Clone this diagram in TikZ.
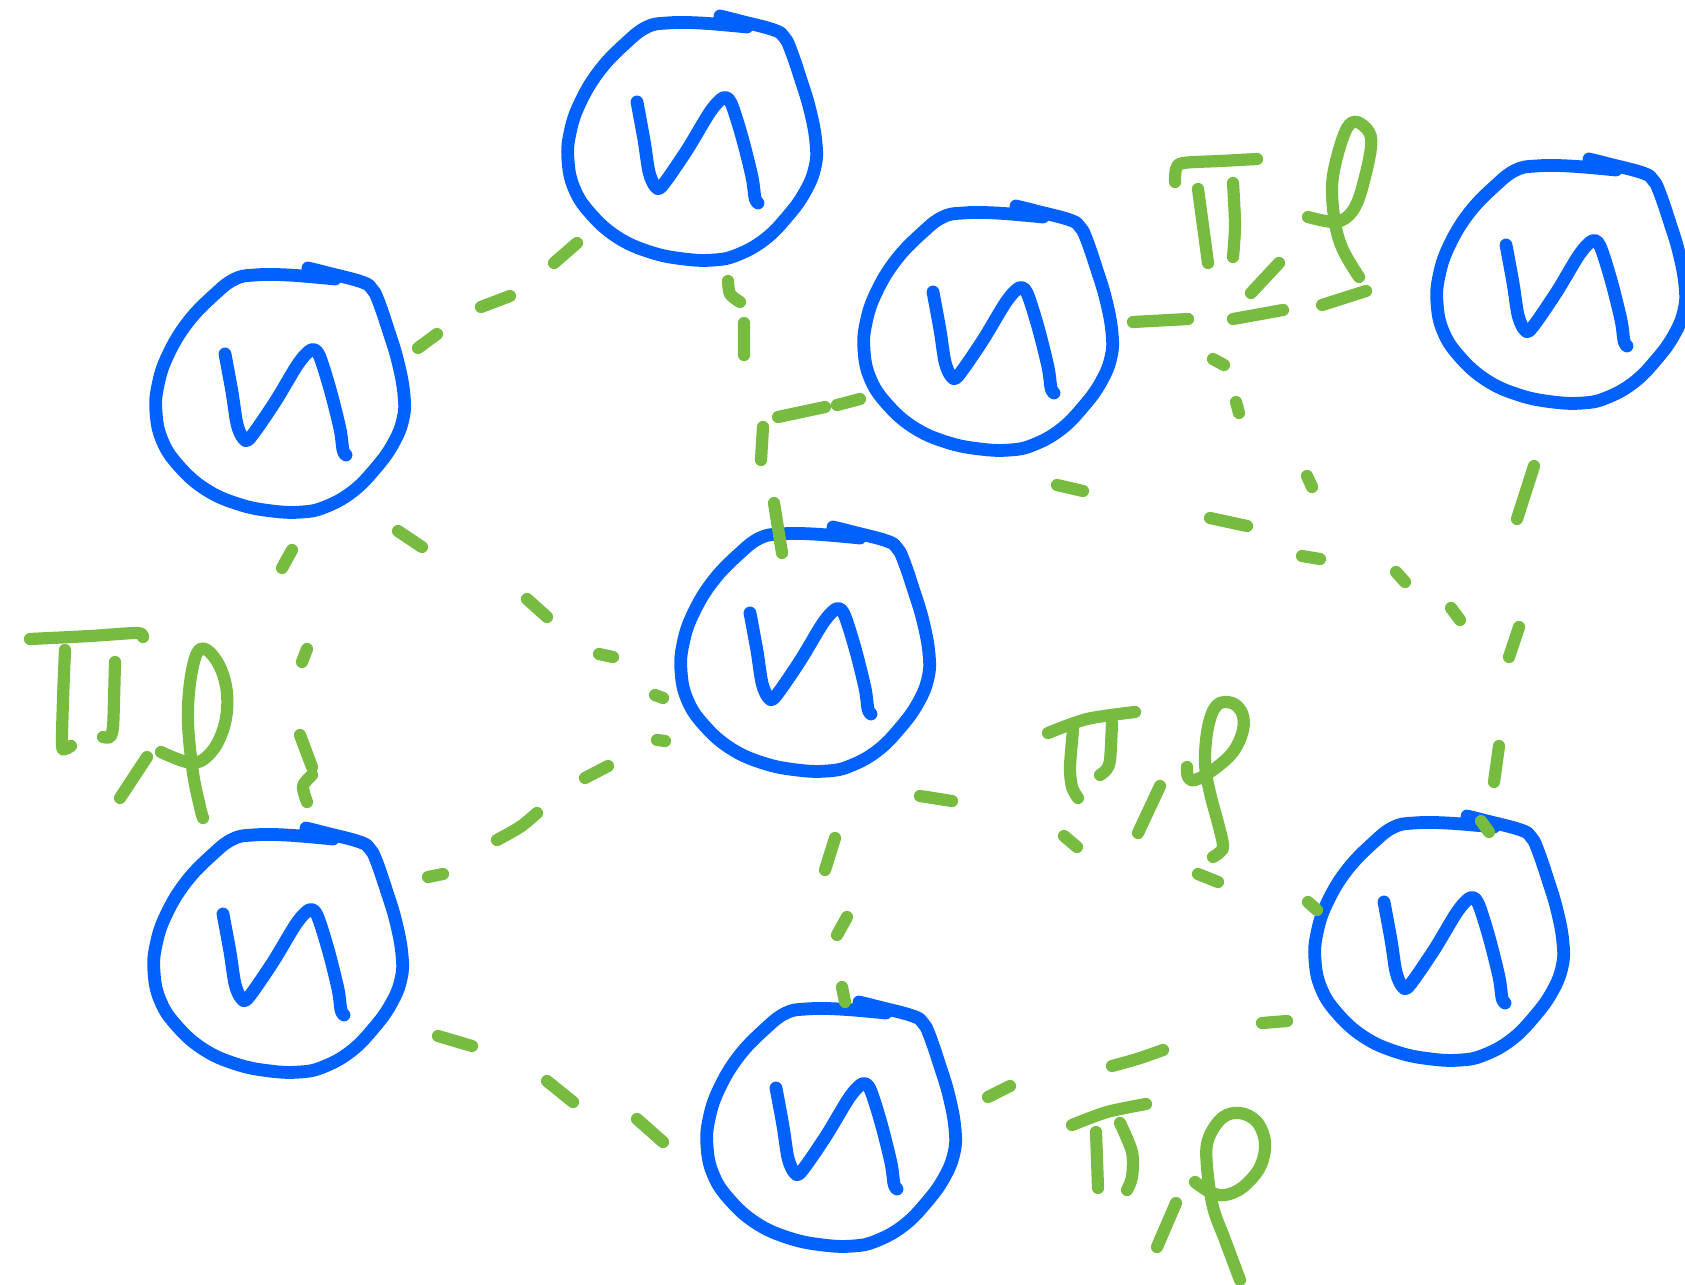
\documentclass[tikz,border=0pt]{standalone}
\definecolor{inkblue}{RGB}{0,97,254}
\definecolor{inkgreen}{RGB}{119,187,65}
\tikzset{
  x=0.5pt, y=-0.5pt,
  pen/.style={line width=6.1pt, line cap=round, line join=round},
  blobline/.style={pen, draw=inkblue, line width=6.4pt},
  link/.style={pen, draw=inkgreen},
  glyph/.style={pen, draw=inkgreen},
  % hand-drawn state: a closed scribble with a letter n inside
  blob/.pic={
    \draw[blobline] plot[smooth, tension=0.7] coordinates {
      (28,-124) (48,-119) (82,-110) (92,-103) (98,-92) (108,-63) (118,-30)
      (124,3) (123,27) (113,52) (95,77) (72,100) (45,115) (22,120) (-8,119)
      (-42,112) (-75,97) (-102,73) (-118,48) (-124,20) (-122,-7) (-112,-37)
      (-92,-70) (-65,-98) (-45,-113) (-25,-117) (8,-117) (55,-113)};
    \draw[blobline] plot[smooth, tension=0.5] coordinates {
      (-55,-38) (-48,0) (-43,32) (-37,46) (-30,46) (-5,10) (18,-28)
      (31,-42) (39,-37) (50,-3) (60,37) (63,58) (66,63)};
  }
}
\begin{document}
\begin{tikzpicture}
\useasboundingbox (0,0) rectangle (1685,1284);
\fill[white] (0,0) rectangle (1685,1284);

% states
\node[coordinate] (n1) at (692,140) {};
\node[coordinate] (n2) at (280,392) {};
\node[coordinate] (n3) at (988,330) {};
\node[coordinate] (n4) at (1561,283) {};
\node[coordinate] (n5) at (805,651) {};
\node[coordinate] (n6) at (278,952) {};
\node[coordinate] (n7) at (831,1126) {};
\node[coordinate] (n8) at (1439,940) {};
\foreach \n in {n1,n2,n3,n4,n5,n6,n7,n8} \pic at (\n) {blob};

% dashed links, each drawn stroke by stroke
\draw[link] (418,348) -- (437,334) (481,307) -- (510,296) (554,263) -- (577,243);
\draw[link] plot[smooth] coordinates {(728,281) (730,294) (740,302)};
\draw[link] (744,323) -- (744,355) (763,427) -- (761,460) (774,503) -- (782,553);
\draw[link] (860,399) -- (837,405) (825,407) -- (778,417);
\draw[link] (398,531) -- (422,547) (527,599) -- (547,617) (599,654) -- (613,657) (655,695) -- (663,698);
\draw[link] (292,550) -- (282,568) (307,649) -- (302,662) (300,735) -- (312,767);
\draw[link] plot[smooth] coordinates {(312,775) (303,786) (307,802)};
\draw[link] (428,877) -- (443,874) (585,778) -- (608,766) (657,740) -- (665,741);
\draw[link] plot[smooth] coordinates {(497,840) (520,827) (537,813)};
\draw[link] (438,1036) -- (472,1046) (547,1081) -- (573,1102) (637,1119) -- (663,1142);
\draw[link] (835,838) -- (825,870) (847,917) -- (837,935) (842,987) -- (845,1002);
\draw[link] (988,1097) -- (1010,1086) (1262,1023) -- (1287,1021);
\draw[link] plot[smooth] coordinates {(1112,1066) (1137,1059) (1163,1050)};
\draw[link] (920,796) -- (952,801) (1064,836) -- (1077,847) (1198,874) -- (1218,882) (1308,902) -- (1317,910);
\draw[link] (1133,322) -- (1188,319) (1233,319) -- (1283,310) (1322,305) -- (1366,291);
\draw[link] (1213,359) -- (1224,365) (1236,402) -- (1239,413) (1307,476) -- (1312,487);
\draw[link] (1057,485) -- (1083,491) (1210,518) -- (1247,526) (1302,556) -- (1320,559)
  (1396,572) -- (1405,582) (1451,608) -- (1460,620);
\draw[link] (1534,466) -- (1517,519) (1519,627) -- (1509,657) (1499,746) -- (1494,782) (1481,821) -- (1489,832);

% handwritten labels: pi , rho
% upper right
\draw[glyph] plot[smooth] coordinates {(1175,182) (1176,169) (1183,163) (1220,161) (1257,159)};
\draw[glyph] (1198,189) -- (1208,263);
\draw[glyph] plot[smooth] coordinates {(1233,183) (1235,225) (1233,257)};
\draw[glyph] (1279,263) -- (1251,293);
\draw[glyph] plot[smooth, tension=0.6] coordinates {(1308,217) (1333,222) (1347,217) (1357,203)
  (1365,177) (1371,147) (1369,132) (1357,122) (1347,128) (1337,157) (1332,187)
  (1335,223) (1343,250) (1359,277)};
% left
\draw[glyph] plot[smooth] coordinates {(30,639) (90,636) (137,633) (143,637)};
\draw[glyph] plot[smooth] coordinates {(65,650) (63,700) (62,745) (65,749) (71,746)};
\draw[glyph] plot[smooth] coordinates {(115,662) (114,700) (113,727) (110,737) (103,737)};
\draw[glyph] (147,757) -- (120,798);
\draw[glyph] plot[smooth, tension=0.6] coordinates {(161,752) (193,763) (213,750) (225,723)
  (227,693) (220,667) (207,650) (197,653) (190,683) (188,723) (193,773) (200,807) (203,818)};
% middle right
\draw[glyph] plot[smooth] coordinates {(1048,733) (1087,719) (1135,712)};
\draw[glyph] plot[smooth] coordinates {(1073,730) (1070,767) (1072,787) (1078,798)};
\draw[glyph] plot[smooth] coordinates {(1112,723) (1110,760) (1106,770) (1100,775)};
\draw[glyph] (1160,786) -- (1138,833);
\draw[glyph] plot[smooth, tension=0.6] coordinates {(1187,767) (1188,777) (1195,780) (1213,770)
  (1233,752) (1243,730) (1242,713) (1232,703) (1217,705) (1208,727) (1205,763)
  (1210,793) (1218,823) (1223,845) (1220,852) (1213,857)};
% bottom
\draw[glyph] plot[smooth] coordinates {(1072,1125) (1107,1112) (1146,1104)};
\draw[glyph] (1096,1132) -- (1098,1188);
\draw[glyph] plot[smooth] coordinates {(1120,1123) (1132,1152) (1132,1177) (1127,1190)};
\draw[glyph] (1176,1203) -- (1157,1247);
\draw[glyph] plot[smooth, tension=0.6] coordinates {(1195,1182) (1210,1192) (1225,1195) (1243,1187)
  (1260,1167) (1265,1143) (1257,1122) (1240,1113) (1222,1118) (1208,1140) (1207,1167)
  (1213,1207) (1225,1240) (1240,1280)};
\end{tikzpicture}
\end{document}
